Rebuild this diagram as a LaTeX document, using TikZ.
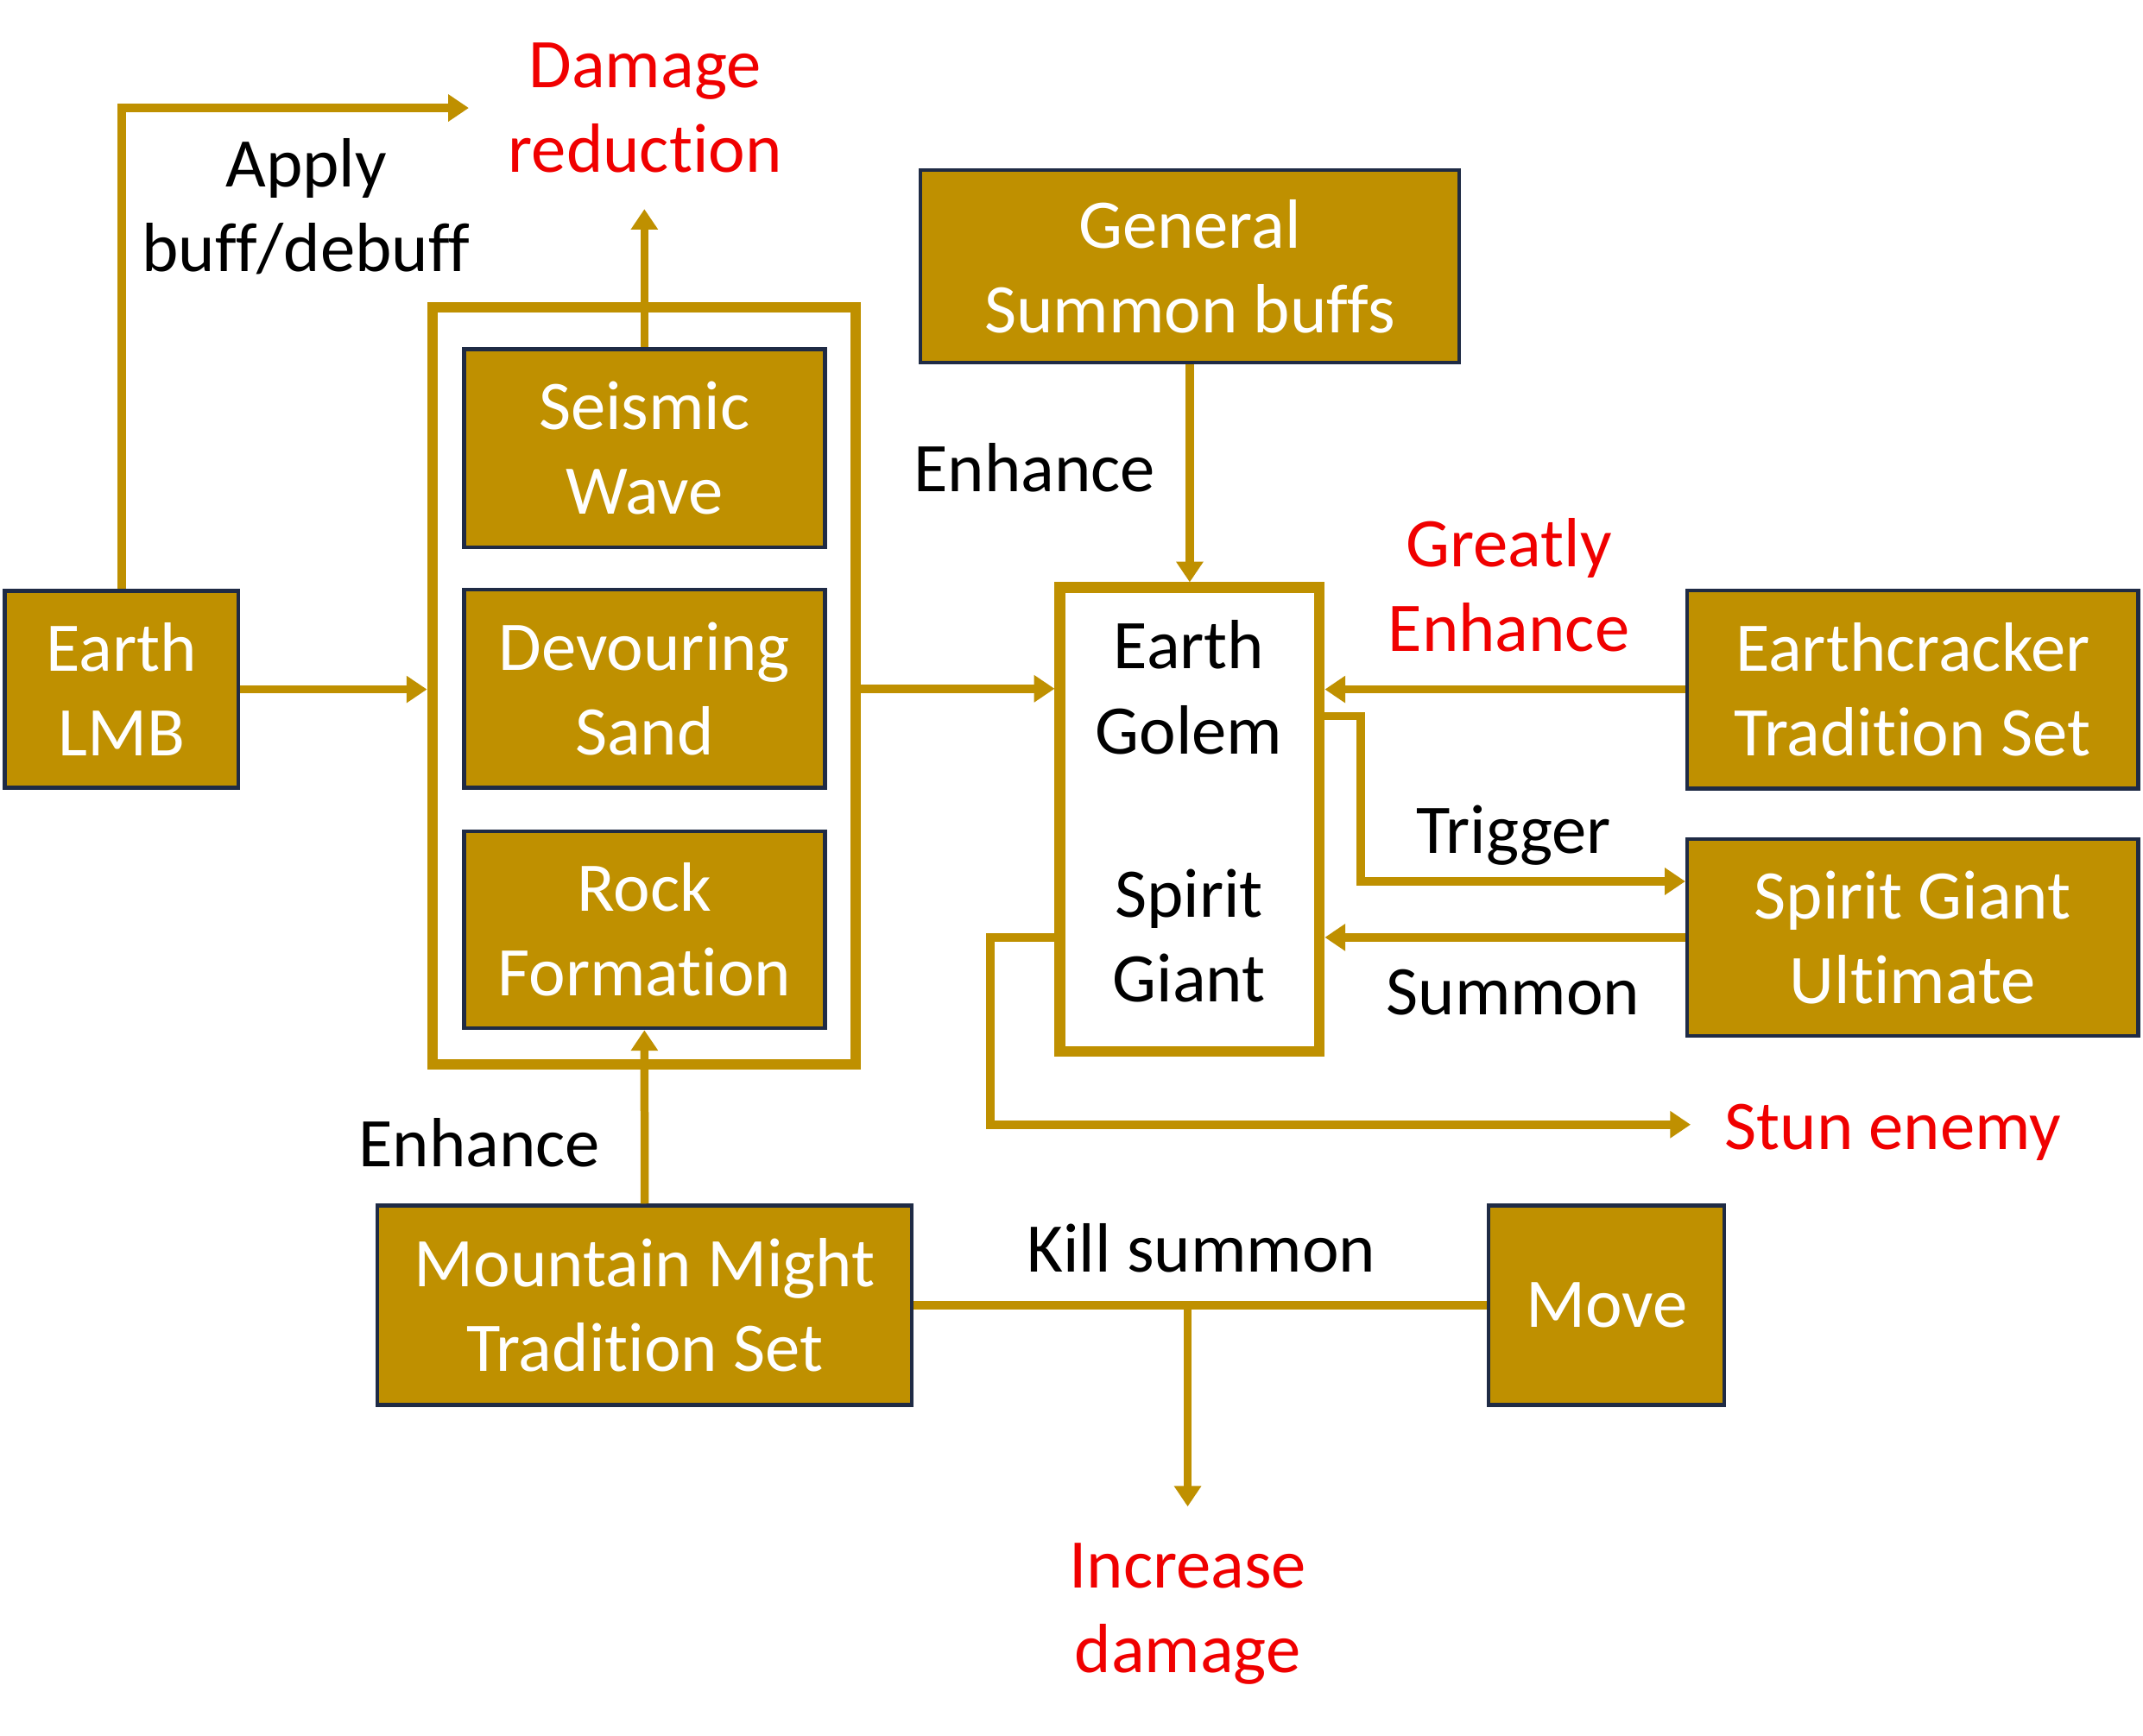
\documentclass[tikz,border=0pt]{standalone}
\usepackage{fontspec}
\setmainfont{Carlito}[Ligatures={NoCommon,NoRare,NoContextual}]
\usetikzlibrary{arrows.meta,calc}
\definecolor{gold}{HTML}{BF9000}
\definecolor{navy}{HTML}{1F2B45}
\definecolor{redtxt}{HTML}{F00000}
\begin{document}
\begin{tikzpicture}[x=1pt,y=-1pt,
  box/.style={draw=navy, line width=2.8pt, fill=gold, text=white, align=center, inner sep=0pt, font=\fontsize{51}{62}\selectfont},
  lbl/.style={align=center, inner sep=0pt, font=\fontsize{51}{62}\selectfont},
  redlbl/.style={lbl, text=redtxt},
  frame/.style={draw=gold, line width=8pt, fill=white, inner sep=0pt},
  conn/.style={draw=gold, line width=6pt},
  arr/.style={conn, -{Triangle[length=15pt,width=19pt]}},
]
\useasboundingbox[fill=white] (0,0) rectangle (1568,1270);

% frames
\node[frame, minimum width=309.6pt, minimum height=554pt] (group) at (471.2,502) {};
\node[frame, minimum width=189.7pt, minimum height=339.5pt] (golem) at (870.5,599.8) {};

% boxes
\node[box, minimum width=171pt, minimum height=144pt] (lmb) at (89,504.5) {Earth\\LMB};
\node[box, minimum width=264pt, minimum height=145pt] (seismic) at (471.5,328) {Seismic\\Wave};
\node[box, minimum width=264pt, minimum height=145pt] (devour) at (471.5,504) {Devouring\\Sand};
\node[box, minimum width=264pt, minimum height=144pt] (rock) at (471.5,680.5) {Rock\\Formation};
\node[box, minimum width=394pt, minimum height=141pt] (general) at (870.5,195) {General\\Summon buffs};
\node[box, minimum width=330pt, minimum height=145pt] (ec) at (1399.5,504.5) {Earthcracker\\Tradition Set};
\node[box, minimum width=330pt, minimum height=144pt] (sgu) at (1399.5,686) {Spirit Giant\\Ultimate};
\node[box, minimum width=391pt, minimum height=146pt] (mm) at (471.7,955.2) {Mountain Might\\Tradition Set};
\node[box, minimum width=172.5pt, minimum height=146pt] (move) at (1175.5,955.2) {Move};

% golem texts
\node[lbl] (golemtxt) at (870,503) {Earth\\Golem};
\node[lbl] (spirittxt) at (870,685) {Spirit\\Giant};

% labels
\node[lbl] (applylbl) at (224,151) {Apply\\buff/debuff};
\node[redlbl] (drlbl) at (472,79) {Damage\\reduction};
\node[lbl] (enh1) at (757,342.5) {Enhance};
\node[redlbl] (genh) at (1104,428) {Greatly\\Enhance};
\node[lbl] (trig) at (1107.5,611) {Trigger};
\node[lbl] (summ) at (1107,726) {Summon};
\node[redlbl] (stun) at (1385,829) {Stun enemy};
\node[lbl] (enh2) at (350.8,836.5) {Enhance};
\node[lbl] (kill) at (879,913.5) {Kill summon};
\node[redlbl] (incdmg) at (869,1181) {Increase\\damage};

% connectors
\coordinate (applyend) at (343,79);
\draw[arr] (lmb.north) |- (applyend);
\coordinate (drend) at (471.5,153);
\draw[arr] (seismic.north) -- (drend);
\draw[arr] (lmb.east) -- (group.west |- lmb.east);
\draw[arr] (group.east |- devour.east) -- (golem.west |- devour.east);
\draw[arr] (general.south) -- (golem.north);
\draw[arr] (ec.west) -- (golem.east |- ec.west);
\draw[arr] (golem.east |- 0,524) -- (995.5,524) -- (995.5,645) -- (sgu.west |- 0,645);
\draw[arr] (sgu.west |- 0,686) -- (golem.east |- 0,686);
\coordinate (stunend) at (1237,823);
\draw[arr] (golem.west |- 0,686) -- (724.5,686) -- (724.5,823) -- (stunend);
\draw[arr] (mm.north) -- (rock.south);
\draw[conn] (mm.east) -- (move.west);
\coordinate (killjoin) at (869,955.2);
\coordinate (incend) at (869,1102.5);
\draw[arr] (killjoin) -- (incend);
\end{tikzpicture}
\end{document}
